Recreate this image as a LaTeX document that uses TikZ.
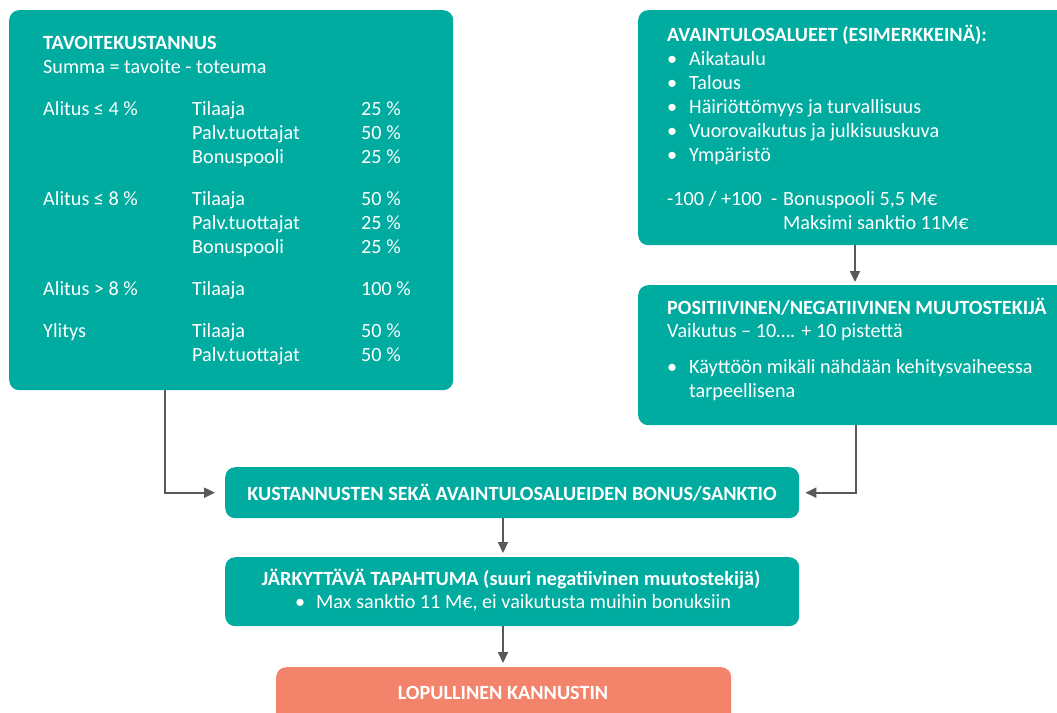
\documentclass[tikz,border=0pt]{standalone}
\usepackage{fontspec}
\setmainfont{Carlito}
\usetikzlibrary{arrows.meta}
\definecolor{tealbox}{HTML}{00ABA0}
\definecolor{salmonbox}{HTML}{F4836B}
\definecolor{arrowgray}{HTML}{595959}
\begin{document}
\begin{tikzpicture}[x=1pt,y=-1pt,
  box/.style={fill=tealbox, rounded corners=10pt, inner sep=0pt, anchor=north west},
  txt/.style={anchor=base west, inner sep=0pt, text=white, font=\fontsize{20.2}{24}\selectfont},
  btxt/.style={anchor=base west, inner sep=0pt, text=white, font=\fontsize{20.2}{24}\selectfont\bfseries},
  ctxt/.style={anchor=base, inner sep=0pt, text=white, font=\fontsize{20.2}{24}\selectfont\bfseries},
  conn/.style={draw=arrowgray, line width=2pt, -{Triangle[length=11pt,width=10pt]}}]
\useasboundingbox (0,0) rectangle (1057,712);
\clip (0,0) rectangle (1057,712);
\fill[white] (0,0) rectangle (1057,712);

% boxes
\node[box, minimum width=444pt, minimum height=380pt] (b1) at (9,10) {};
\node[box, minimum width=440pt, minimum height=235pt] (b2) at (638,10) {};
\node[box, minimum width=440pt, minimum height=140pt] (b3) at (638,285) {};
\node[box, minimum width=574pt, minimum height=51pt] (b4) at (225,467) {};
\node[box, minimum width=574pt, minimum height=69pt] (b5) at (225,557) {};
\node[box, fill=salmonbox, minimum width=455pt, minimum height=80pt] (b6) at (276,667) {};

% box 1 text
\node[btxt] (t1a) at (43,49) {TAVOITEKUSTANNUS};
\node[txt] (t1b) at (43,73) {Summa = tavoite - toteuma};
\node[txt] (r1a) at (43,115) {Alitus ≤ 4 \%};
\node[txt] (r1b) at (192,115) {Tilaaja};
\node[txt] (r1c) at (361,115) {25 \%};
\node[txt] (r2b) at (192,139) {Palv.tuottajat};
\node[txt] (r2c) at (361,139) {50 \%};
\node[txt] (r3b) at (192,163) {Bonuspooli};
\node[txt] (r3c) at (361,163) {25 \%};
\node[txt] (r4a) at (43,205) {Alitus ≤ 8 \%};
\node[txt] (r4b) at (192,205) {Tilaaja};
\node[txt] (r4c) at (361,205) {50 \%};
\node[txt] (r5b) at (192,229) {Palv.tuottajat};
\node[txt] (r5c) at (361,229) {25 \%};
\node[txt] (r6b) at (192,253) {Bonuspooli};
\node[txt] (r6c) at (361,253) {25 \%};
\node[txt] (r7a) at (43,295) {Alitus > 8 \%};
\node[txt] (r7b) at (192,295) {Tilaaja};
\node[txt] (r7c) at (361,295) {100 \%};
\node[txt] (r8a) at (43,337) {Ylitys};
\node[txt] (r8b) at (192,337) {Tilaaja};
\node[txt] (r8c) at (361,337) {50 \%};
\node[txt] (r9b) at (192,361) {Palv.tuottajat};
\node[txt] (r9c) at (361,361) {50 \%};

% box 2 text
\node[btxt] (t2a) at (667,41) {AVAINTULOSALUEET (ESIMERKKEINÄ):};
\node[txt] (d2a) at (667,65) {•};
\node[txt] (s2a) at (689,65) {Aikataulu};
\node[txt] (d2b) at (667,89) {•};
\node[txt] (s2b) at (689,89) {Talous};
\node[txt] (d2c) at (667,113) {•};
\node[txt] (s2c) at (689,113) {Häiriöttömyys ja turvallisuus};
\node[txt] (d2d) at (667,137) {•};
\node[txt] (s2d) at (689,137) {Vuorovaikutus ja julkisuuskuva};
\node[txt] (d2e) at (667,161) {•};
\node[txt] (s2e) at (689,161) {Ympäristö};
\node[txt] (p2a) at (667,205) {-100 / +100};
\node[txt] (p2d) at (771,205) {-};
\node[txt] (p2b) at (783,205) {Bonuspooli 5,5 M€};
\node[txt] (p2c) at (783,229) {Maksimi sanktio 11M€};

% box 3 text
\node[btxt] (t3a) at (667,314) {POSITIIVINEN/NEGATIIVINEN MUUTOSTEKIJÄ};
\node[txt] (t3b) at (667,337) {Vaikutus – 10…. + 10 pistettä};
\node[txt] (d3a) at (667,373) {•};
\node[txt] (s3a) at (689,373) {Käyttöön mikäli nähdään kehitysvaiheessa};
\node[txt] (s3b) at (689,397) {tarpeellisena};

% box 4, 5, 6 text
\node[ctxt] (t4) at (512,500) {KUSTANNUSTEN SEKÄ AVAINTULOSALUEIDEN BONUS/SANKTIO};
\node[ctxt] (t5a) at (511,585) {JÄRKYTTÄVÄ TAPAHTUMA (suuri negatiivinen muutostekijä)};
\node[txt] (d5a) at (295,608) {•};
\node[txt] (s5a) at (316,608) {Max sanktio 11 M€, ei vaikutusta muihin bonuksiin};
\node[ctxt] (t6) at (503,699) {LOPULLINEN KANNUSTIN};

% connectors
\draw[conn] ([xshift=156pt]b1.south west) |- ([xshift=-10pt]b4.west);
\draw[conn] ([xshift=218pt]b3.south west) |- ([xshift=6pt]b4.east);
\draw[conn] ([xshift=217pt]b2.south west) -- ([xshift=217pt,yshift=3pt]b3.north west);
\draw[conn] ([xshift=278pt]b4.south west) -- ([xshift=278pt,yshift=4pt]b5.north west);
\draw[conn] ([xshift=278pt]b5.south west) -- ([xshift=227pt,yshift=4pt]b6.north west);
\end{tikzpicture}
\end{document}
